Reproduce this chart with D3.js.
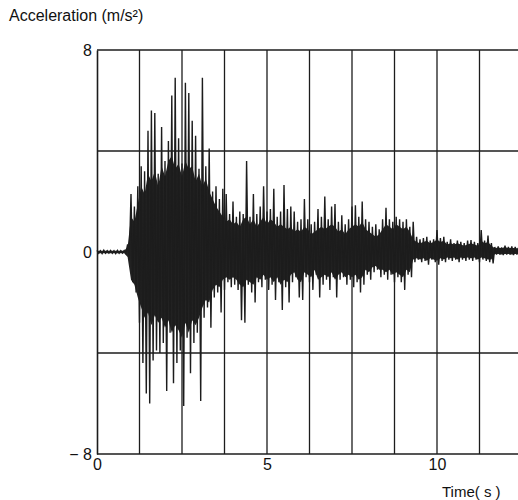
<!DOCTYPE html>
<html>
<head>
<meta charset="utf-8">
<script src="https://d3js.org/d3.v7.min.js"></script>
<style>
  body { margin: 0; background: #fff; }
  text { font-family: "Liberation Sans", Arial, Helvetica, sans-serif; fill: #111; }
</style>
</head>
<body>
<div id="my_dataviz"></div>
<script>
// values, one sample every 0.1 s (t = 0 .. 12.4)
var sampleStep = 0.1

// outer peaks (the thin spikes)
var upperPeaks = [
  0.06, 0.05, 0.07, 0.05, 0.06, 0.05, 0.06, 0.05, 0.06, 0.3,
  2.3, 1.8, 2.6, 3.4, 3.2, 4.8, 5.6, 5.5, 3.1, 4.95,
  3.6, 4.4, 6.2, 6.9, 4.5, 3.5, 6.7, 6.3, 5.2, 4.6,
  3.3, 6.9, 3.4, 4.1, 2.4, 2.6, 2.1, 2.5, 2.3, 1.5,
  2.0, 1.4, 1.6, 1.5, 3.6, 1.4, 2.3, 1.5, 1.8, 2.6,
  1.6, 1.7, 2.5, 1.4, 1.6, 2.65, 1.7, 1.8, 1.6, 1.2,
  1.3, 2.1, 1.3, 1.1, 1.2, 1.7, 1.4, 2.2, 1.3, 1.8,
  1.9, 1.2, 1.45, 1.1, 1.3, 1.8, 1.85, 1.4, 2.0, 1.3,
  1.2, 1.0, 1.1, 0.9, 1.3, 1.75, 1.3, 1.2, 1.4, 1.3,
  1.2, 1.3, 1.0, 1.2, 0.6, 0.5, 0.55, 0.6, 0.45, 0.5,
  0.87, 0.55, 0.6, 0.4, 0.5, 0.35, 0.45, 0.4, 0.35, 0.45,
  0.47, 0.4, 0.35, 0.87, 0.45, 0.65, 0.35, 0.2, 0.22, 0.18,
  0.25, 0.2, 0.22, 0.2, 0.18
]
var lowerPeaks = [
  -0.05, -0.06, -0.05, -0.04, -0.05, -0.06, -0.05, -0.04, -0.05, -0.3,
  -1.2, -1.6, -2.8, -4.4, -5.6, -6.0, -4.3, -3.9, -4.0, -3.6,
  -5.5, -3.2, -5.2, -4.4, -3.9, -6.1, -3.4, -4.8, -3.6, -3.2,
  -5.9, -2.6, -2.2, -3.0, -1.8, -1.6, -2.4, -1.5, -1.2, -1.4,
  -1.3, -1.5, -2.7, -2.8, -1.3, -1.6, -2.0, -1.2, -1.4, -1.1,
  -1.5, -1.3, -1.9, -1.2, -2.3, -1.4, -2.0, -1.2, -1.0, -1.8,
  -1.9, -1.0, -1.2, -1.5, -0.9, -1.8, -1.3, -1.1, -1.5, -1.0,
  -1.8, -1.1, -1.0, -1.3, -1.1, -1.4, -1.2, -1.6, -1.3, -0.9,
  -1.1, -0.8, -0.7, -1.0, -0.9, -1.1, -0.9, -1.2, -1.0, -1.2,
  -1.5, -0.9, -1.0, -0.4, -0.3, -0.4, -0.35, -0.5, -0.3, -0.4,
  -0.5, -0.35, -0.4, -0.3, -0.35, -0.3, -0.4, -0.3, -0.35, -0.3,
  -0.35, -0.3, -0.4, -0.3, -0.35, -0.4, -0.45, -0.1, -0.1, -0.12,
  -0.1, -0.1, -0.12, -0.1, -0.1
]

// edges of the dense black core of the trace
var coreUpper = [
  0.05, 0.05, 0.05, 0.05, 0.05, 0.05, 0.05, 0.05, 0.05, 0.2,
  1.4, 1.2, 1.9, 2.6, 2.3, 3.1, 2.8, 3.2, 2.6, 3.4,
  3.0, 3.6, 3.8, 3.3, 3.5, 3.0, 3.6, 3.3, 3.4, 2.8,
  3.1, 2.6, 2.9, 2.4, 2.1, 1.8, 1.6, 1.4, 1.2, 1.3,
  1.1, 1.2, 1.0, 1.3, 1.4, 1.1, 1.3, 1.0, 1.2, 1.4,
  1.1, 1.3, 1.2, 1.0, 1.1, 1.0, 0.9, 1.0, 0.8, 0.9,
  0.8, 1.0, 0.9, 0.7, 0.8, 0.9, 1.0, 0.9, 1.0, 1.1,
  1.0, 0.8, 0.9, 0.7, 0.9, 1.0, 1.1, 1.0, 1.2, 0.9,
  0.8, 0.7, 0.6, 0.7, 0.9, 1.1, 1.0, 0.9, 1.1, 1.0,
  0.9, 1.0, 0.8, 0.5, 0.4, 0.35, 0.4, 0.45, 0.35, 0.4,
  0.5, 0.4, 0.45, 0.3, 0.35, 0.3, 0.35, 0.3, 0.25, 0.3,
  0.35, 0.3, 0.25, 0.45, 0.35, 0.4, 0.25, 0.15, 0.18, 0.15,
  0.2, 0.15, 0.17, 0.15, 0.15
]
var coreLower = [
  -0.05, -0.05, -0.05, -0.05, -0.05, -0.05, -0.05, -0.05, -0.05, -0.2,
  -1.1, -1.3, -1.8, -2.2, -2.6, -2.4, -2.9, -2.5, -2.8, -2.6,
  -3.0, -2.7, -3.2, -2.9, -3.1, -3.4, -2.8, -3.2, -2.7, -2.9,
  -2.6, -2.2, -1.9, -2.0, -1.5, -1.3, -1.4, -1.1, -1.0, -1.1,
  -1.0, -1.1, -1.3, -1.4, -1.1, -1.2, -1.3, -1.0, -1.1, -0.9,
  -1.1, -1.0, -1.2, -1.0, -1.3, -1.1, -1.2, -0.9, -0.8, -1.1,
  -1.2, -0.8, -0.9, -1.0, -0.7, -1.1, -1.0, -0.9, -1.0, -0.8,
  -1.1, -0.9, -0.8, -1.0, -0.9, -1.0, -0.9, -1.1, -1.0, -0.7,
  -0.8, -0.6, -0.55, -0.7, -0.7, -0.8, -0.7, -0.9, -0.8, -0.9,
  -1.0, -0.7, -0.8, -0.3, -0.25, -0.3, -0.25, -0.35, -0.25, -0.3,
  -0.35, -0.25, -0.3, -0.22, -0.25, -0.22, -0.3, -0.22, -0.25, -0.22,
  -0.25, -0.22, -0.3, -0.22, -0.25, -0.3, -0.3, -0.08, -0.08, -0.1,
  -0.08, -0.08, -0.1, -0.08, -0.08
]

// axes
var xTicks = [0, 5, 10]
var xGrid = [1.25, 2.5, 3.75, 5, 6.25, 7.5, 8.75, 10, 11.25]
var yTicks = [-8, 0, 8]
var yTickLabels = ["\u2212 8", "0", "8"]
var yGrid = [-4, 4]

var width = 518, height = 500
var ink = "#1c1c1c"

var svg = d3.select("#my_dataviz")
  .append("svg")
    .attr("width", width)
    .attr("height", height)

var x = d3.scaleLinear()
  .domain([0, 12.5])
  .range([97, 522])

var y = d3.scaleLinear()
  .domain([-8, 8])
  .range([454, 50])

// grid lines
svg.append("g")
  .selectAll("line")
  .data(xGrid)
  .enter()
  .append("line")
    .attr("x1", function(d){ return x(d) })
    .attr("x2", function(d){ return x(d) })
    .attr("y1", y(8))
    .attr("y2", y(-8))
    .attr("stroke", ink)
    .attr("stroke-width", 1.3)

svg.append("g")
  .selectAll("line")
  .data(yGrid)
  .enter()
  .append("line")
    .attr("x1", x(0))
    .attr("x2", width)
    .attr("y1", function(d){ return y(d) })
    .attr("y2", function(d){ return y(d) })
    .attr("stroke", ink)
    .attr("stroke-width", 1.3)

// frame: top and bottom lines
svg.append("g")
  .selectAll("line")
  .data([8, -8])
  .enter()
  .append("line")
    .attr("x1", x(0))
    .attr("x2", width)
    .attr("y1", function(d){ return y(d) })
    .attr("y2", function(d){ return y(d) })
    .attr("stroke", ink)
    .attr("stroke-width", 1.6)

// left axis
var yAxis = svg.append("g")
  .attr("transform", "translate(" + x(0) + ",0)")
  .call(d3.axisLeft(y)
    .tickValues(yTicks)
    .tickSize(0)
    .tickPadding(5)
    .tickFormat(function(d, i){ return yTickLabels[i] }))
yAxis.select(".domain").attr("stroke", ink).attr("stroke-width", 1.6)
yAxis.selectAll("text")
  .attr("font-size", 16)
  .attr("font-family", null)
  .attr("fill", ink)

// bottom axis labels
var xAxis = svg.append("g")
  .attr("transform", "translate(0," + y(-8) + ")")
  .call(d3.axisBottom(x)
    .tickValues(xTicks)
    .tickSize(0)
    .tickPadding(5))
xAxis.select(".domain").remove()
xAxis.selectAll("text")
  .attr("font-size", 16)
  .attr("font-family", null)
  .attr("fill", ink)

// the trace: dense core first, then the zigzag of peaks over it
var core = coreUpper.map(function(v, i){ return [i * sampleStep, v, coreLower[i]] })
svg.append("path")
  .datum(core)
  .attr("fill", "#222")
  .attr("d", d3.area()
    .x(function(d){ return x(d[0]) })
    .y0(function(d){ return y(d[2]) })
    .y1(function(d){ return y(d[1]) }))

var trace = []
upperPeaks.forEach(function(v, i){
  var t = i * sampleStep
  trace.push([t, v])
  trace.push([t + sampleStep / 2, lowerPeaks[i]])
})
svg.append("path")
  .datum(trace)
  .attr("fill", "none")
  .attr("stroke", ink)
  .attr("stroke-width", 1.4)
  .attr("d", d3.line()
    .x(function(d){ return x(d[0]) })
    .y(function(d){ return y(d[1]) }))

// titles
svg.append("text")
  .attr("x", 9)
  .attr("y", 21)
  .attr("font-size", 16)
  .text("Acceleration (m/s\u00b2)")

svg.append("text")
  .attr("x", 442)
  .attr("y", 497)
  .attr("font-size", 15)
  .text("Time( s )")
</script>
</body>
</html>
